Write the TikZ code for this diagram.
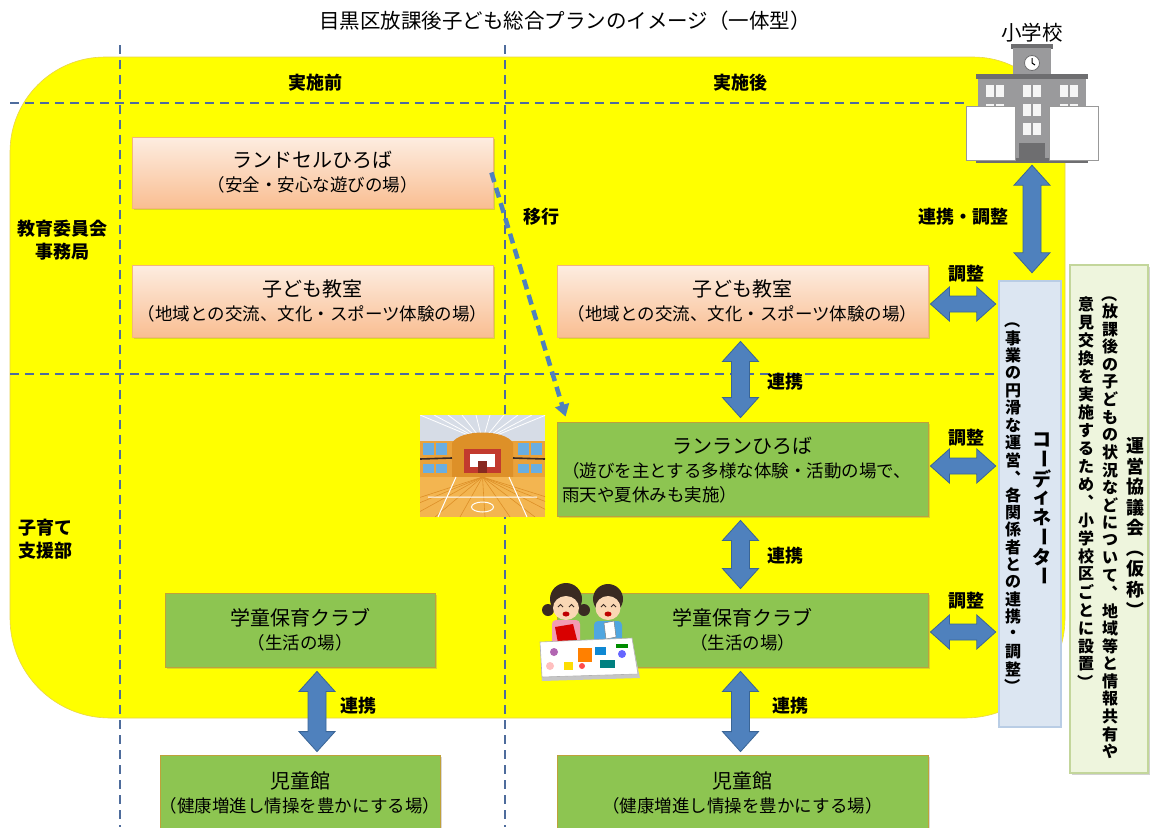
\documentclass[tikz,border=0pt]{standalone}
\usepackage{fontspec}
\usepackage{graphicx}
\setmainfont{Noto Sans CJK JP}
\usetikzlibrary{calc,shadows,arrows.meta}

\definecolor{bigyellow}{HTML}{FFFF00}
\definecolor{yellowedge}{HTML}{E8D44A}
\definecolor{guidecol}{HTML}{4E6C9C}
\definecolor{peachtop}{HTML}{FDEDE1}
\definecolor{peachbot}{HTML}{F9BE92}
\definecolor{peachline}{HTML}{F3B47E}
\definecolor{greenfill}{HTML}{8DC551}
\definecolor{greenline}{HTML}{BFA13A}
\definecolor{arrowblue}{HTML}{4F81BD}
\definecolor{arrowedge}{HTML}{3A6596}
\definecolor{coordfill}{HTML}{DCE6F2}
\definecolor{coordline}{HTML}{B9CDE5}
\definecolor{councilfill}{HTML}{EEF5DD}
\definecolor{councilline}{HTML}{C3D69B}
\definecolor{gymwall}{HTML}{E9A23B}
\definecolor{gymceil}{HTML}{D6DCE6}
\definecolor{gymback}{HTML}{DD9028}
\definecolor{gymfloor}{HTML}{F3B550}
\definecolor{gymwin}{HTML}{6AAEE0}
\definecolor{stagered}{HTML}{C23A2E}
\definecolor{hair}{HTML}{3A2A22}
\definecolor{skin}{HTML}{FAD7B4}
\definecolor{shirtpink}{HTML}{F29BB2}
\definecolor{shirtblue}{HTML}{4FA6E0}
\definecolor{bldgray}{HTML}{9A9A9C}
\definecolor{bldgraydk}{HTML}{6E6E70}

% vertical (top-to-bottom) column of characters
\newlength\vstep
\newlength\vcw
\makeatletter
\newcommand\vcol[2]{\vbox{\offinterlineskip\setlength\vstep{#1}\setlength\vcw{1.2em}\vcol@loop#2\relax}}
\def\vcol@loop#1{\ifx\relax#1\else\hbox to\vcw{\hss\vbox to\vstep{\vss\hbox{#1}\vss}\hss}\expandafter\vcol@loop\fi}
\makeatother
\newcommand\vbar{\rotatebox[origin=c]{-90}{ー}}
\newcommand\vopen{\rotatebox[origin=c]{-90}{（}}
\newcommand\vclose{\rotatebox[origin=c]{-90}{）}}

% block double arrows between two points (canvas)
\newcommand\dblV[2]{\path[blockarrow] let \p1=(#1), \p2=(#2) in
  (\x1,\y1) -- (\x1+18pt,\y1-20pt) -- (\x1+9pt,\y1-20pt) -- (\x1+9pt,\y2+20pt) -- (\x1+18pt,\y2+20pt)
  -- (\x1,\y2) -- (\x1-18pt,\y2+20pt) -- (\x1-9pt,\y2+20pt) -- (\x1-9pt,\y1-20pt) -- (\x1-18pt,\y1-20pt) -- cycle;}
\newcommand\dblH[2]{\path[blockarrow] let \p1=(#1), \p2=(#2) in
  (\x1,\y1) -- (\x1+19pt,\y1+17pt) -- (\x1+19pt,\y1+8pt) -- (\x2-19pt,\y1+8pt) -- (\x2-19pt,\y1+17pt)
  -- (\x2,\y1) -- (\x2-19pt,\y1-17pt) -- (\x2-19pt,\y1-8pt) -- (\x1+19pt,\y1-8pt) -- (\x1+19pt,\y1-17pt) -- cycle;}

\begin{document}
\begin{tikzpicture}[x=1pt,y=-1pt,
  guide/.style={draw=guidecol, line width=1.4pt, dash pattern=on 9pt off 6pt},
  box/.style={inner sep=0pt, align=center, font=\fontsize{17.5}{24}\selectfont},
  peach/.style={box, draw=peachline, line width=0.8pt, top color=peachtop, bottom color=peachbot,
    drop shadow={shadow xshift=1.5pt, shadow yshift=-1.5pt, opacity=0.3}},
  greenbox/.style={box, draw=greenline, line width=0.8pt, fill=greenfill,
    drop shadow={shadow xshift=1.5pt, shadow yshift=-1.5pt, opacity=0.3}},
  blockarrow/.style={fill=arrowblue, draw=arrowedge, line width=0.8pt},
  lbl/.style={font=\fontsize{18}{20}\selectfont\bfseries, inner sep=0pt},
  movearrow/.style={draw=arrowblue, line width=4.5pt, dash pattern=on 10pt off 6pt,
    -{Triangle[length=12pt,width=14pt]}}
]
\useasboundingbox (0,0) rectangle (1150,827);
\fill[white] (0,0) rectangle (1150,827);

% yellow area
\path[fill=bigyellow, draw=yellowedge, line width=0.6pt]
  (10,400) [rounded corners=95pt] -- (10,57) -- (500,57) [rounded corners=92pt] -- (1065,57)
  -- (1065,400) [rounded corners=100pt] -- (1065,718) -- (500,718) [rounded corners=100pt] -- (10,718) -- cycle;

% guide lines
\draw[guide] (120,45) -- (120,827);
\draw[guide] (505,45) -- (505,827);
\draw[guide] (10,103) -- (968,103);
\draw[guide] (10,374) -- (999,374);

% title and headings
\node[font=\fontsize{20.5}{22}\selectfont, inner sep=0pt] (title) at (565,21) {目黒区放課後子ども総合プランのイメージ（一体型）};
\node[font=\fontsize{20.5}{22}\selectfont, inner sep=0pt] (schoollbl) at (1032,33) {小学校};
\node[lbl] (hbefore) at (315,83) {実施前};
\node[lbl] (hafter) at (740,83) {実施後};
\node[lbl, align=center, font=\fontsize{18}{23}\selectfont\bfseries] (rowedu) at (62,240) {教育委員会\\事務局};
\node[lbl, align=center, font=\fontsize{18}{23}\selectfont\bfseries] (rowkids) at (45,539) {子育て\\支援部};

% boxes
\node[peach, minimum width=361pt, minimum height=71pt] (land) at (312.5,172.5)
  {{\fontsize{20}{24}\selectfont ランドセルひろば}\\（安全・安心な遊びの場）};
\node[peach, minimum width=361pt, minimum height=72pt] (kyoL) at (312.5,301)
  {{\fontsize{20}{24}\selectfont 子ども教室}\\（地域との交流、文化・スポーツ体験の場）};
\node[peach, minimum width=371pt, minimum height=72pt] (kyoR) at (742.5,301)
  {{\fontsize{20}{24}\selectfont 子ども教室}\\（地域との交流、文化・スポーツ体験の場）};
\node[greenbox, minimum width=371pt, minimum height=94pt] (ranran) at (742.5,469) {};
\node[font=\fontsize{20}{24}\selectfont, inner sep=0pt] (ranrantitle) at (742.5,446) {ランランひろば};
\node[font=\fontsize{17.5}{24}\selectfont, inner sep=0pt, align=left, anchor=west] (ranranbody) at (562,483)
  {（遊びを主とする多様な体験・活動の場で、\\雨天や夏休みも実施）};
\node[greenbox, minimum width=270pt, minimum height=74pt] (gakuL) at (300,630)
  {{\fontsize{20}{24}\selectfont 学童保育クラブ}\\（生活の場）};
\node[greenbox, minimum width=371pt, minimum height=74pt] (gakuR) at (742.5,630)
  {{\fontsize{20}{24}\selectfont 学童保育クラブ}\\（生活の場）};
\node[greenbox, minimum width=270pt, minimum height=76pt] (jidoL) at (300,793)
  {{\fontsize{20}{24}\selectfont 児童館}\\（健康増進し情操を豊かにする場）};
\node[greenbox, minimum width=371pt, minimum height=76pt] (jidoR) at (742.5,793)
  {{\fontsize{20}{24}\selectfont 児童館}\\（健康増進し情操を豊かにする場）};

% coordinator and council
\node[draw=coordline, line width=2.5pt, fill=coordfill, minimum width=62pt, minimum height=446pt, inner sep=0pt] (coord) at (1030,504) {};
\node[inner sep=0pt, anchor=north] (coordsub) at (1013,312)
  {\fontsize{16}{16}\selectfont\bfseries\vcol{17.4pt}{\vopen 事業の円滑な運営︑各関係者との連携・調整\vclose}};
\node[inner sep=0pt] (coordname) at (1042,508)
  {\fontsize{19}{19}\selectfont\bfseries\vcol{19.5pt}{コ\vbar ディネ\vbar タ\vbar}};
\node[draw=councilline, line width=1.5pt, fill=councilfill, minimum width=78pt, minimum height=508pt, inner sep=0pt,
  drop shadow={shadow xshift=2pt, shadow yshift=-2pt, opacity=0.35}] (council) at (1109,519) {};
\node[inner sep=0pt] (councilname) at (1135,528)
  {\fontsize{18}{18}\selectfont\bfseries\vcol{20.5pt}{運営協議会\vopen 仮称\vclose}};
\node[inner sep=0pt, anchor=north] (councilmid) at (1110,285)
  {\fontsize{16}{16}\selectfont\bfseries\vcol{17.6pt}{\vopen 放課後の子どもの状況などについて︑地域等と情報共有や}};
\node[inner sep=0pt, anchor=north] (councilleft) at (1086,295)
  {\fontsize{16}{16}\selectfont\bfseries\vcol{18pt}{意見交換を実施するため︑小学校区ごとに設置\vclose}};

% school building
\node[inner sep=0pt, minimum width=132pt, minimum height=118pt] (school) at (1032,104) {};
\fill[bldgraydk] (1011,44) rectangle (1053,49);
\fill[bldgray] (1013,48) rectangle (1051,80);
\fill[white, draw=bldgraydk, line width=0.8pt] (1032,63) circle (7.5);
\draw[black, line width=1pt] (1032,63) -- (1032,58) (1032,63) -- (1035,65);
\fill[bldgray] (978,76) rectangle (1086,160);
\fill[bldgraydk] (976,74) rectangle (1088,79);
\foreach \cx in {995,1032,1069}{
  \foreach \wy in {85,104,123}{
    \fill[white!92!gray] (\cx-9,\wy) rectangle (\cx-1,\wy+12);
    \fill[white!92!gray] (\cx+1,\wy) rectangle (\cx+9,\wy+12);
  }}
\fill[bldgraydk] (1019,143) rectangle (1045,160);
\fill[bldgraydk] (976,158) rectangle (1088,163);
\filldraw[fill=white, draw=gray!80, line width=0.8pt] (966,106) rectangle (1015,160);
\filldraw[fill=white, draw=gray!80, line width=0.8pt] (1049,106) rectangle (1098,160);

% gymnasium picture
\begin{scope}[shift={(420,415)}]
  \clip (0,0) rectangle (125,102);
  \fill[gymwall] (0,0) rectangle (125,102);
  \fill[gymceil] (0,0) rectangle (125,26);
  \foreach \x in {0,14,...,126} \draw[white, line width=0.8pt] (\x,0) -- (62.5,26);
  \fill[gymback] (32,62) -- (32,28) .. controls (40,14) and (85,14) .. (93,28) -- (93,62) -- cycle;
  \fill[stagered] (44,34) rectangle (81,58);
  \fill[white] (50,39) rectangle (75,52);
  \fill[stagered!70!black] (58,46) rectangle (67,58);
  \fill[gymwin] (3,28) rectangle (14,40); \fill[gymwin] (16,28) rectangle (27,40);
  \fill[gymwin] (98,28) rectangle (109,40); \fill[gymwin] (111,28) rectangle (122,40);
  \fill[gymwin] (3,49) rectangle (14,58); \fill[gymwin] (16,49) rectangle (27,58);
  \fill[gymwin] (98,49) rectangle (109,58); \fill[gymwin] (111,49) rectangle (122,58);
  \draw[hair, line width=1.6pt] (0,44) -- (32,43) (93,43) -- (125,44);
  \fill[gymfloor] (0,62) rectangle (125,102);
  \foreach \x in {-60,-35,...,190} \draw[gymback, line width=0.6pt] (62.5,62) -- (\x,102);
  \draw[white, line width=1pt] (18,102) -- (36,62) (107,102) -- (89,62) (8,82) -- (117,82);
  \draw[white, line width=1pt] (62.5,92) ellipse (11 and 5);
\end{scope}

% children picture
\begin{scope}[shift={(540,580)}]
  \fill[hair] (8,30) circle (6); \fill[hair] (44,30) circle (6);
  \fill[hair] (26,19) circle (16);
  \fill[skin] (26,28) ellipse (13 and 12);
  \draw[hair, line width=0.9pt] (18,27) -- (20.5,24.5) -- (23,27) (29,27) -- (31.5,24.5) -- (34,27);
  \fill[red!75!black] (26,34) ellipse (3.5 and 2.5);
  \fill[shirtpink, rounded corners=4pt] (12,40) rectangle (40,66);
  \fill[red!85!black] (15,47) -- (33,44) -- (37,60) -- (18,63) -- cycle;
  \fill[hair] (68,19) circle (15);
  \fill[skin] (68,28) ellipse (12.5 and 12);
  \draw[hair, line width=0.9pt] (61,27) -- (63.5,24.5) -- (66,27) (71,27) -- (73.5,24.5) -- (76,27);
  \fill[red!75!black] (68,34) ellipse (3.5 and 2.5);
  \fill[shirtblue, rounded corners=4pt] (54,41) rectangle (82,66);
  \filldraw[fill=white, draw=gray, line width=0.5pt] (64,43) -- (74,41) -- (76,57) -- (66,59) -- cycle;
  \fill[gray!45] (0,64) -- (92,60) -- (100,98) -- (2,101) -- cycle;
  \filldraw[fill=white, draw=gray!60, line width=0.6pt] (0,62) -- (92,58) -- (98,94) -- (2,97) -- cycle;
  \fill[violet!60] (14,72) circle (4);
  \fill[orange] (38,68) rectangle (52,82);
  \fill[teal] (60,80) rectangle (75,88);
  \fill[blue!60] (82,74) circle (4);
  \fill[green!55!black] (76,64) rectangle (88,68);
  \fill[pink] (10,86) circle (4);
  \fill[yellow!80!orange] (24,82) rectangle (33,90);
  \fill[cyan!70!blue] (55,67) rectangle (66,75);
  \fill[red!70] (42,86) circle (3);
\end{scope}

% connectors
\draw[movearrow] ($(land.east)+(-2,0)$) -- ($(ranran.north west)+(9,-5)$);
\dblV{$(school.south)+(0,2)$}{$(school.south |- coord.north)+(0,-7)$}
\dblH{$(kyoR.east)+(2,3)$}{$(kyoR.east -| coord.west)+(-2,3)$}
\dblH{$(ranran.east)+(2,-3)$}{$(ranran.east -| coord.west)+(-2,-3)$}
\dblH{$(gakuR.east)+(2,2)$}{$(gakuR.east -| coord.west)+(-2,2)$}
\dblV{$(kyoR.south)+(-2,4)$}{$(kyoR.south |- ranran.north)+(-2,-4)$}
\dblV{$(ranran.south)+(-2,4)$}{$(ranran.south |- gakuR.north)+(-2,-4)$}
\dblV{$(gakuR.south)+(-2,4)$}{$(gakuR.south |- jidoR.north)+(-2,-3)$}
\dblV{$(gakuL.south)+(17,4)$}{$(gakuL.south |- jidoL.north)+(17,-3)$}

% connector labels
\node[lbl] (lblmove) at (541,217) {移行};
\node[lbl] (lblschool) at (963,217) {連携・調整};
\node[lbl] (lbladj1) at (966,274) {調整};
\node[lbl] (lbladj2) at (966,438) {調整};
\node[lbl] (lbladj3) at (966,601) {調整};
\node[lbl] (lbllink1) at (785,382) {連携};
\node[lbl] (lbllink2) at (785,556) {連携};
\node[lbl] (lbllink3) at (790,706) {連携};
\node[lbl] (lbllinkL) at (358,706) {連携};
\end{tikzpicture}
\end{document}
